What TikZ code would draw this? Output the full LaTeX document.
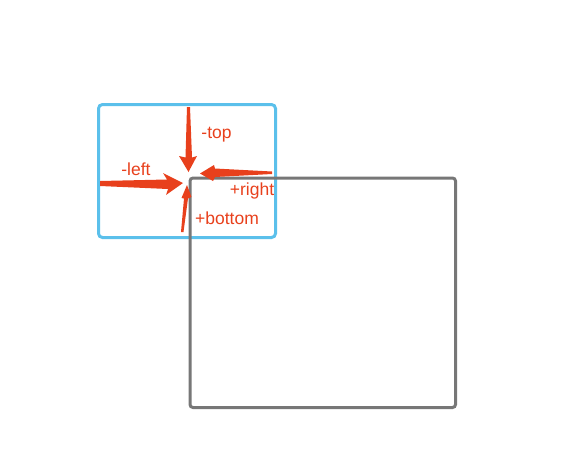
\documentclass[tikz,border=0pt]{standalone}
\usepackage{fontspec}
\setmainfont{Liberation Sans}
\definecolor{arrred}{HTML}{E8401C}
\definecolor{boxblue}{HTML}{5BC0EB}
\definecolor{boxgray}{HTML}{777777}
\begin{document}
\begin{tikzpicture}[x=1pt,y=-1pt,
  lbl/.style={text=arrred,font=\fontsize{17.5}{20}\selectfont,inner sep=0pt},
  arr/.style={fill=arrred,draw=none}]
\useasboundingbox (0,0) rectangle (563,467);
\draw[boxblue,line width=3pt,rounded corners=4pt] (98.5,104.5) rectangle (275.5,237.5);
\draw[boxgray,line width=3pt,rounded corners=3pt] (190,178) rectangle (455.5,407.5);
% top arrow
\fill[arr] (187,107) -- (190,107) -- (192,157.5) -- (197,156) -- (188.5,172) -- (179,156) -- (185.5,157.5) -- cycle;
% left arrow
\fill[arr] (100,181) -- (167,179.5) -- (163,173) -- (183,183) -- (166,195) -- (168,189) -- (100,186) -- cycle;
% right arrow
\fill[arr] (272,171.5) -- (215,168.5) -- (214,165) -- (200,173.5) -- (213,181) -- (215,177) -- (272,174) -- cycle;
% bottom arrow
\fill[arr] (181,232) -- (184,198.5) -- (181.5,198) -- (187,185) -- (191.5,197) -- (188,198.5) -- (183.5,232) -- cycle;
\node[lbl] (top) at (216.5,135) {-top};
\node[lbl] (left) at (136,169.5) {-left};
\node[lbl] (right) at (252,190.5) {+right};
\node[lbl] (bottom) at (227,218) {+bottom};
\end{tikzpicture}
\end{document}
